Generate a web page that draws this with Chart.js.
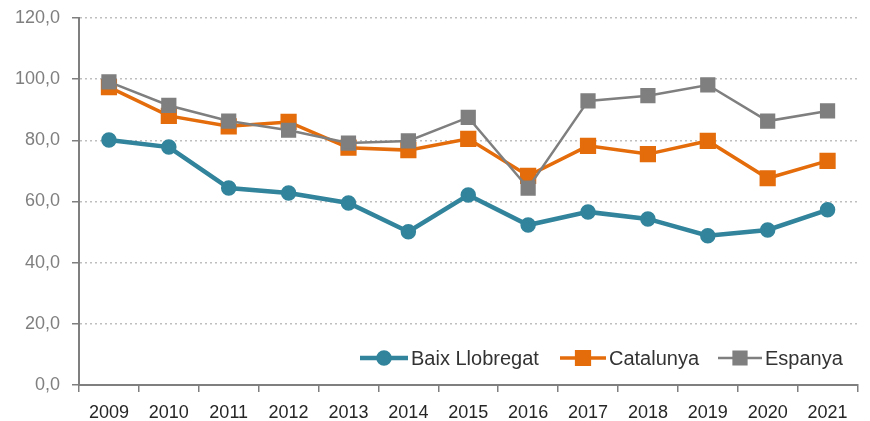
<!DOCTYPE html>
<html>
<head>
<meta charset="utf-8">
<script src="https://cdn.jsdelivr.net/npm/chart.js@4/dist/chart.umd.min.js"></script>
<style>
  html, body { margin: 0; padding: 0; background: #fff; }
  #wrap { position: relative; width: 870px; height: 421px; }
</style>
</head>
<body>
<div id="wrap"><canvas id="chart" width="870" height="421"></canvas></div>
<script>
const years = ['2009', '2010', '2011', '2012', '2013', '2014', '2015', '2016', '2017', '2018', '2019', '2020', '2021'];
const baixLlobregat = [80.1, 77.8, 64.4, 62.8, 59.5, 50.1, 62.1, 52.3, 56.6, 54.3, 48.8, 50.7, 57.3];
const catalunya = [97.4, 88.0, 84.6, 86.0, 77.6, 76.8, 80.5, 68.4, 78.2, 75.5, 79.8, 67.6, 73.3];
const espanya = [99.1, 91.4, 86.3, 83.3, 79.1, 79.8, 87.5, 64.4, 92.9, 94.6, 98.1, 86.3, 89.6];

const FONT = '"Liberation Sans", Arial, sans-serif';

// legend drawn inside the plot area, bottom right
const insideLegend = {
    id: 'insideLegend',
    afterDraw(chart) {
        const ctx = chart.ctx;
        const y = 358;
        const items = [
            { x: 360, len: 48 },
            { x: 560, len: 46 },
            { x: 718, len: 44 }
        ];
        ctx.save();
        ctx.font = '20px ' + FONT;
        ctx.textBaseline = 'middle';
        chart.data.datasets.forEach((ds, i) => {
            const it = items[i];
            ctx.strokeStyle = ds.borderColor;
            ctx.lineWidth = ds.borderWidth;
            ctx.beginPath();
            ctx.moveTo(it.x, y);
            ctx.lineTo(it.x + it.len, y);
            ctx.stroke();
            Chart.helpers.drawPoint(ctx, {
                pointStyle: ds.pointStyle,
                radius: ds.pointRadius,
                borderWidth: 1
            }, it.x + it.len / 2, y);
            ctx.fillStyle = ds.pointBackgroundColor;
            ctx.fill();
            ctx.fillStyle = '#333333';
            ctx.fillText(ds.label, it.x + it.len + 3, y + 1);
        });
        ctx.restore();
    }
};

new Chart(document.getElementById('chart').getContext('2d'), {
    type: 'line',
    data: {
        labels: years,
        datasets: [{
            label: 'Baix Llobregat',
            data: baixLlobregat,
            borderColor: '#31849B',
            backgroundColor: '#31849B',
            pointBackgroundColor: '#31849B',
            pointBorderColor: '#31849B',
            borderWidth: 4.5,
            pointStyle: 'circle',
            pointRadius: 5.5,
            order: 0
        }, {
            label: 'Catalunya',
            data: catalunya,
            borderColor: '#E46C0A',
            backgroundColor: '#E46C0A',
            pointBackgroundColor: '#E46C0A',
            pointBorderColor: '#E46C0A',
            borderWidth: 3.5,
            pointStyle: 'rect',
            pointRadius: 9,
            order: 2
        }, {
            label: 'Espanya',
            data: espanya,
            borderColor: '#7F7F7F',
            backgroundColor: '#7F7F7F',
            pointBackgroundColor: '#7F7F7F',
            pointBorderColor: '#7F7F7F',
            borderWidth: 2.5,
            pointStyle: 'rect',
            pointRadius: 9,
            order: 1
        }]
    },
    options: {
        responsive: false,
        animation: false,
        layout: { padding: { top: 18, right: 4, left: 0, bottom: 0 } },
        plugins: {
            legend: { display: false },
            tooltip: { enabled: false }
        },
        scales: {
            x: {
                offset: true,
                grid: {
                    drawOnChartArea: false,
                    offset: true,
                    tickLength: 7,
                    tickColor: '#7F7F7F',
                    lineWidth: 1.5
                },
                border: { color: '#7F7F7F', width: 2 },
                ticks: {
                    color: '#262626',
                    font: { family: FONT, size: 18 },
                    padding: 10,
                    maxRotation: 0
                },
                afterFit(scale) { scale.height = 36; }
            },
            y: {
                min: 0,
                max: 120,
                ticks: {
                    stepSize: 20,
                    color: '#7F7F7F',
                    font: { family: FONT, size: 18, lineHeight: 1 },
                    padding: 12,
                    callback: v => v.toFixed(1).replace('.', ',')
                },
                grid: {
                    color: '#BFBFBF',
                    lineWidth: 1.5,
                    tickLength: 7,
                    tickColor: '#7F7F7F',
                    tickBorderDash: [],
                    tickWidth: 1.5
                },
                border: { color: '#7F7F7F', width: 2, dash: [2, 3] },
                afterFit(scale) {
                    scale.width = 79;
                    scale.paddingTop = 0;
                }
            }
        }
    },
    plugins: [insideLegend]
});
</script>
</body>
</html>
